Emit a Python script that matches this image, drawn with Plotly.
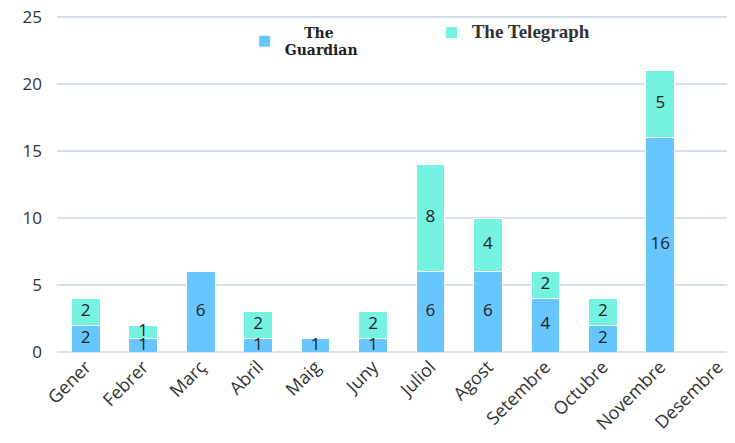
import plotly.graph_objects as go

months = ["Gener", "Febrer", "Març", "Abril", "Maig", "Juny", "Juliol",
          "Agost", "Setembre", "Octubre", "Novembre", "Desembre"]
guardian = [2, 1, 6, 1, 1, 1, 6, 6, 4, 2, 16, 0]
telegraph = [2, 1, 0, 2, 0, 2, 8, 4, 2, 2, 5, 0]
y_ticks = [0, 5, 10, 15, 20, 25]

blue = "#66C6FD"
teal = "#75F2E0"
font_main = "Open Sans, Noto Sans, sans-serif"

fig = go.Figure()
fig.add_trace(go.Bar(
    x=months, y=guardian,
    name='<span style="font-family:DejaVu Serif;font-weight:bold;font-size:14px">&nbsp;&nbsp;&nbsp;&nbsp;The<br>Guardian</span>',
    marker=dict(color=blue, line=dict(color="white", width=1)),
    width=0.5, hoverinfo="x+y"))
fig.add_trace(go.Bar(
    x=months, y=telegraph,
    name='<span style="font-family:Liberation Serif;font-weight:bold;font-size:19px;color:#333">The Telegraph</span>',
    marker=dict(color=teal, line=dict(color="white", width=1)),
    width=0.5, hoverinfo="x+y"))

# centered value labels
lx, ly, lt = [], [], []
for m, g, t in zip(months, guardian, telegraph):
    if g > 0:
        lx.append(m); ly.append(g / 2); lt.append(str(g))
    if t > 0:
        lx.append(m); ly.append(g + t / 2); lt.append(str(t))
fig.add_trace(go.Scatter(x=lx, y=ly, text=lt, mode="text",
                         textfont=dict(family=font_main, size=17, color="#222222"),
                         showlegend=False, hoverinfo="skip"))

fig.update_layout(
    width=735, height=443,
    barmode="stack",
    plot_bgcolor="white", paper_bgcolor="white",
    margin=dict(l=49, r=8, t=1, b=99, autoexpand=False),
    font=dict(family=font_main, size=15, color="#333333"),
    legend=dict(orientation="h", xref="container", yref="container",
                x=0.322, y=0.978, xanchor="left", yanchor="top",
                entrywidth=142, entrywidthmode="pixels",
                valign="middle", bgcolor="rgba(0,0,0,0)",
                font=dict(size=13, color="#222222"), traceorder="normal",
                itemclick=False),
    xaxis=dict(range=[-0.5, 11.3], tickangle=-45, showgrid=False, automargin=False,
               showline=False, ticks="", tickfont=dict(size=18, color="#333333")),
    yaxis=dict(range=[0, 25.6], tickmode="array", tickvals=y_ticks,
               showgrid=True, gridcolor="#D7DFE9",
               gridwidth=1.5, zeroline=True, zerolinecolor="#D7DFE9", automargin=False,
               zerolinewidth=1.5, ticks="", ticklabelstandoff=14,
               ticklabeloverflow="allow",
               tickfont=dict(size=17, color="#333333")),
    bargap=0.5,
)

fig.write_html("out.html")
